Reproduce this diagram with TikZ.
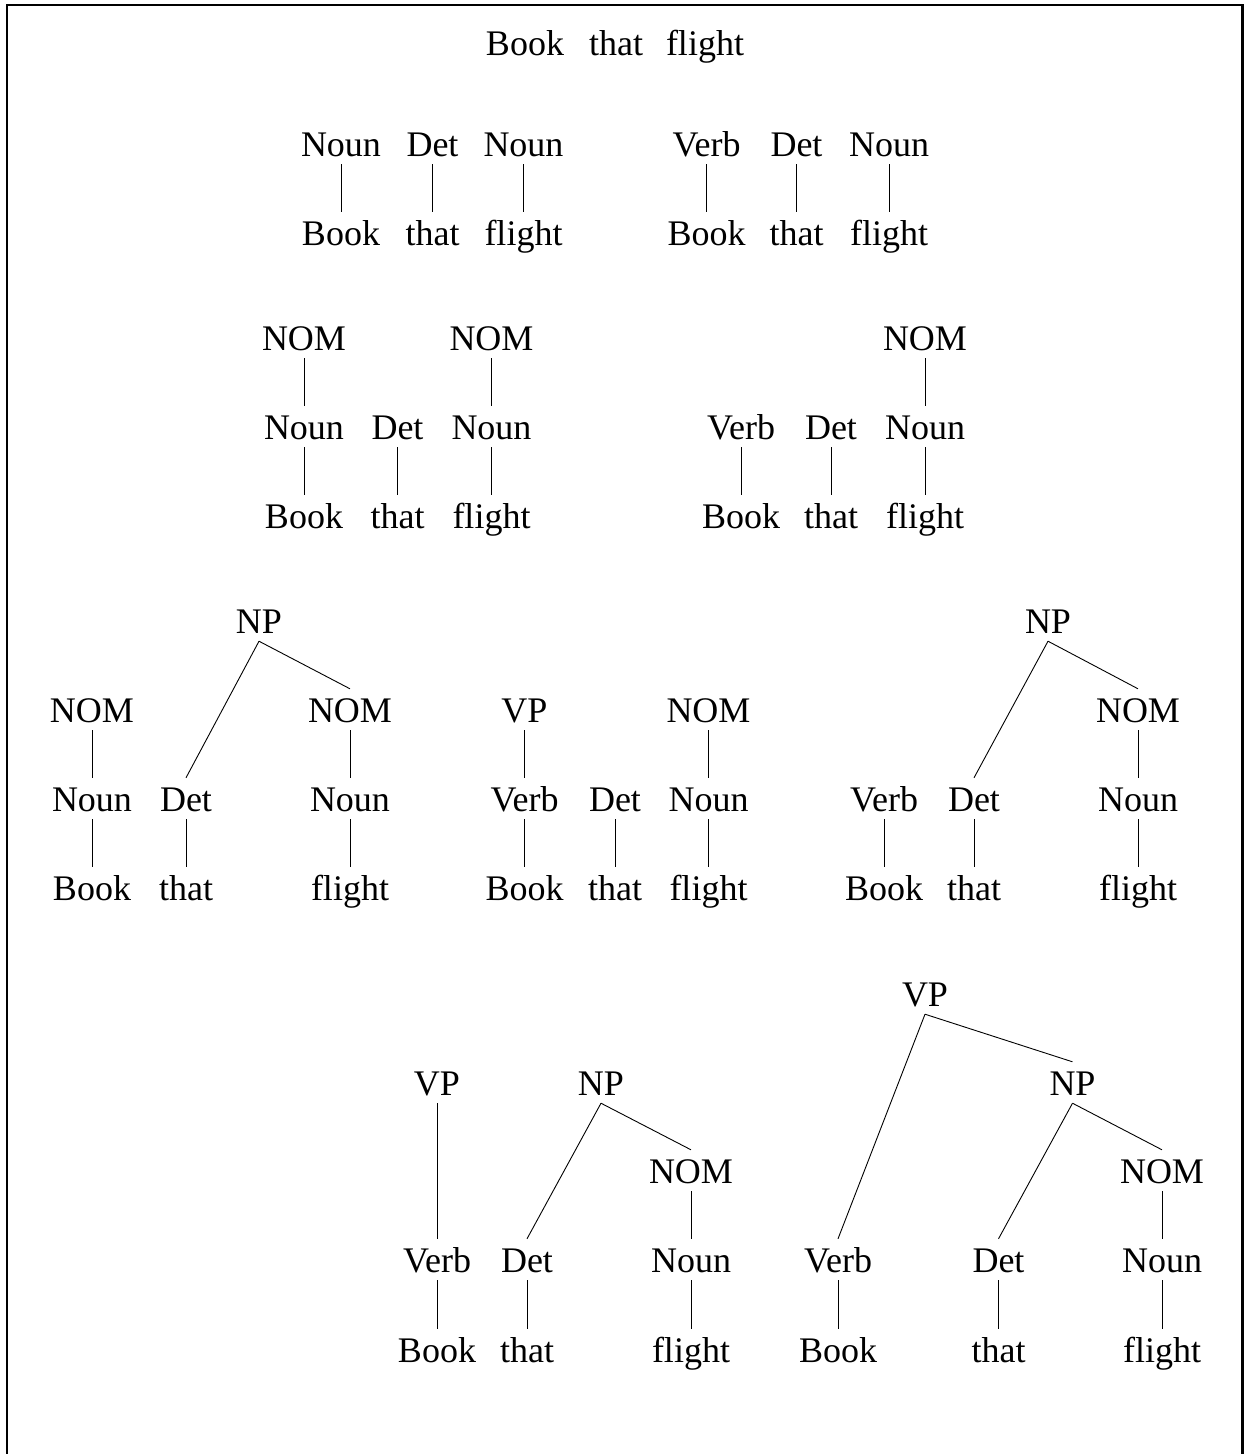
\documentclass[tikz,border=0pt]{standalone}
\usepackage{fontspec}
\setmainfont{Liberation Serif}
\begin{document}
\begin{tikzpicture}[x=1pt,y=-1pt,
  lbl/.style={anchor=base, inner sep=0pt, text height=33pt, text depth=8pt,
              font=\fontsize{36}{40}\selectfont},
  br/.style={line width=0.9pt},
  frame/.style={line width=2.5pt, line join=miter}]
\useasboundingbox (0,0) rectangle (1246,1454);
\draw[frame] (7,1454) -- (7,5) -- (1242.5,5) -- (1242.5,1454);

% sentence
\node[lbl] (s-book)   at (525,55) {Book};
\node[lbl] (s-that)   at (616,55) {that};
\node[lbl] (s-flight) at (705,55) {flight};

% level 1: part-of-speech tags
\node[lbl] (a-n1) at (341,156) {Noun};
\node[lbl] (a-d)  at (432.5,156) {Det};
\node[lbl] (a-n2) at (523.5,156) {Noun};
\node[lbl] (a-w1) at (341,245) {Book};
\node[lbl] (a-w2) at (432.5,245) {that};
\node[lbl] (a-w3) at (523.5,245) {flight};
\draw[br] (a-n1.south) -- (a-w1.north);
\draw[br] (a-d.south)  -- (a-w2.north);
\draw[br] (a-n2.south) -- (a-w3.north);

\node[lbl] (b-v)  at (706.5,156) {Verb};
\node[lbl] (b-d)  at (796.5,156) {Det};
\node[lbl] (b-n)  at (889,156) {Noun};
\node[lbl] (b-w1) at (706.5,245) {Book};
\node[lbl] (b-w2) at (796.5,245) {that};
\node[lbl] (b-w3) at (889,245) {flight};
\draw[br] (b-v.south) -- (b-w1.north);
\draw[br] (b-d.south) -- (b-w2.north);
\draw[br] (b-n.south) -- (b-w3.north);

% level 2: NOM
\node[lbl] (c-nom1) at (304,350) {NOM};
\node[lbl] (c-nom2) at (491.5,350) {NOM};
\node[lbl] (c-n1)   at (304,439) {Noun};
\node[lbl] (c-d)    at (397.5,439) {Det};
\node[lbl] (c-n2)   at (491.5,439) {Noun};
\node[lbl] (c-w1)   at (304,528) {Book};
\node[lbl] (c-w2)   at (397.5,528) {that};
\node[lbl] (c-w3)   at (491.5,528) {flight};
\draw[br] (c-nom1.south) -- (c-n1.north);
\draw[br] (c-nom2.south) -- (c-n2.north);
\draw[br] (c-n1.south) -- (c-w1.north);
\draw[br] (c-d.south)  -- (c-w2.north);
\draw[br] (c-n2.south) -- (c-w3.north);

\node[lbl] (d-nom) at (925,350) {NOM};
\node[lbl] (d-v)   at (741,439) {Verb};
\node[lbl] (d-d)   at (831,439) {Det};
\node[lbl] (d-n)   at (925,439) {Noun};
\node[lbl] (d-w1)  at (741,528) {Book};
\node[lbl] (d-w2)  at (831,528) {that};
\node[lbl] (d-w3)  at (925,528) {flight};
\draw[br] (d-nom.south) -- (d-n.north);
\draw[br] (d-v.south) -- (d-w1.north);
\draw[br] (d-d.south) -- (d-w2.north);
\draw[br] (d-n.south) -- (d-w3.north);

% level 3: NP and VP
\node[lbl] (e-np)   at (259,633) {NP};
\node[lbl] (e-nom1) at (92,722) {NOM};
\node[lbl] (e-nom2) at (350,722) {NOM};
\node[lbl] (e-n1)   at (92,811) {Noun};
\node[lbl] (e-d)    at (186,811) {Det};
\node[lbl] (e-n2)   at (350,811) {Noun};
\node[lbl] (e-w1)   at (92,900) {Book};
\node[lbl] (e-w2)   at (186,900) {that};
\node[lbl] (e-w3)   at (350,900) {flight};
\draw[br] (e-np.south) -- (e-d.north);
\draw[br] (e-np.south) -- (e-nom2.north);
\draw[br] (e-nom1.south) -- (e-n1.north);
\draw[br] (e-nom2.south) -- (e-n2.north);
\draw[br] (e-n1.south) -- (e-w1.north);
\draw[br] (e-d.south)  -- (e-w2.north);
\draw[br] (e-n2.south) -- (e-w3.north);

\node[lbl] (f-vp)  at (524.5,722) {VP};
\node[lbl] (f-nom) at (708.5,722) {NOM};
\node[lbl] (f-v)   at (524.5,811) {Verb};
\node[lbl] (f-d)   at (615,811) {Det};
\node[lbl] (f-n)   at (708.5,811) {Noun};
\node[lbl] (f-w1)  at (524.5,900) {Book};
\node[lbl] (f-w2)  at (615,900) {that};
\node[lbl] (f-w3)  at (708.5,900) {flight};
\draw[br] (f-vp.south) -- (f-v.north);
\draw[br] (f-nom.south) -- (f-n.north);
\draw[br] (f-v.south) -- (f-w1.north);
\draw[br] (f-d.south) -- (f-w2.north);
\draw[br] (f-n.south) -- (f-w3.north);

\node[lbl] (g-np)  at (1048,633) {NP};
\node[lbl] (g-nom) at (1138,722) {NOM};
\node[lbl] (g-v)   at (884,811) {Verb};
\node[lbl] (g-d)   at (974,811) {Det};
\node[lbl] (g-n)   at (1138,811) {Noun};
\node[lbl] (g-w1)  at (884,900) {Book};
\node[lbl] (g-w2)  at (974,900) {that};
\node[lbl] (g-w3)  at (1138,900) {flight};
\draw[br] (g-np.south) -- (g-d.north);
\draw[br] (g-np.south) -- (g-nom.north);
\draw[br] (g-nom.south) -- (g-n.north);
\draw[br] (g-v.south) -- (g-w1.north);
\draw[br] (g-d.south) -- (g-w2.north);
\draw[br] (g-n.south) -- (g-w3.north);

% level 4: complete parses
\node[lbl] (h-vp)  at (437,1095) {VP};
\node[lbl] (h-np)  at (601,1095) {NP};
\node[lbl] (h-nom) at (691,1183) {NOM};
\node[lbl] (h-v)   at (437,1272) {Verb};
\node[lbl] (h-d)   at (527,1272) {Det};
\node[lbl] (h-n)   at (691,1272) {Noun};
\node[lbl] (h-w1)  at (437,1362) {Book};
\node[lbl] (h-w2)  at (527,1362) {that};
\node[lbl] (h-w3)  at (691,1362) {flight};
\draw[br] (h-vp.south) -- (h-v.north);
\draw[br] (h-np.south) -- (h-d.north);
\draw[br] (h-np.south) -- (h-nom.north);
\draw[br] (h-nom.south) -- (h-n.north);
\draw[br] (h-v.south) -- (h-w1.north);
\draw[br] (h-d.south) -- (h-w2.north);
\draw[br] (h-n.south) -- (h-w3.north);

\node[lbl] (k-vp)  at (925,1006) {VP};
\node[lbl] (k-np)  at (1072.5,1095) {NP};
\node[lbl] (k-nom) at (1162,1183) {NOM};
\node[lbl] (k-v)   at (838,1272) {Verb};
\node[lbl] (k-d)   at (998.5,1272) {Det};
\node[lbl] (k-n)   at (1162,1272) {Noun};
\node[lbl] (k-w1)  at (838,1362) {Book};
\node[lbl] (k-w2)  at (998.5,1362) {that};
\node[lbl] (k-w3)  at (1162,1362) {flight};
\draw[br] (k-vp.south) -- (k-v.north);
\draw[br] (k-vp.south) -- (k-np.north);
\draw[br] (k-np.south) -- (k-d.north);
\draw[br] (k-np.south) -- (k-nom.north);
\draw[br] (k-nom.south) -- (k-n.north);
\draw[br] (k-v.south) -- (k-w1.north);
\draw[br] (k-d.south) -- (k-w2.north);
\draw[br] (k-n.south) -- (k-w3.north);
\end{tikzpicture}
\end{document}
